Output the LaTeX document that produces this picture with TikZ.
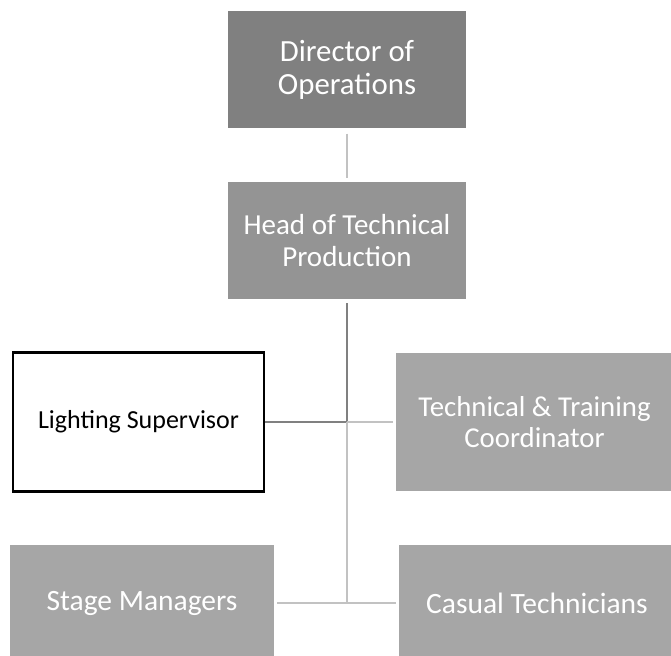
\documentclass[tikz,border=0pt]{standalone}
\usepackage{fontspec}
\setmainfont{Carlito}
\begin{document}
\begin{tikzpicture}[x=1pt,y=-1pt,
  box/.style={rectangle, inner sep=0pt, align=center, text=white},
  dark/.style={color=black!50},
  light/.style={color=black!24},
  conn/.style={line width=2.6pt}]
\useasboundingbox (0,0) rectangle (671,655);
\node[box, fill=black!50, minimum width=238pt, minimum height=117pt, font=\fontsize{30.8}{33}\selectfont] (dir) at (347,70) {Director of\\Operations};
\node[box, fill=black!42, minimum width=238pt, minimum height=117pt, font=\fontsize{29}{32}\selectfont] (head) at (347,240.5) {Head of Technical\\Production};
\node[box, text=black, draw=black, line width=2.5pt, minimum width=251pt, minimum height=139pt, font=\fontsize{26}{30}\selectfont] (light) at (138.5,422) {Lighting Supervisor};
\node[box, fill=black!35, minimum width=277pt, minimum height=138pt, font=\fontsize{28.8}{31}\selectfont] (tech) at (534.5,422) {Technical \& Training\\Coordinator};
\node[box, fill=black!35, minimum width=264pt, minimum height=116pt, font=\fontsize{29.5}{32}\selectfont] (stage) at (142,603) {Stage Managers};
\node[box, fill=black!35, minimum width=276pt, minimum height=116pt, font=\fontsize{29.5}{32}\selectfont] (cas) at (537,603) {Casual Technicians};
\coordinate (j1) at (347,422);
\coordinate (j2) at (347,603);
\draw[conn, light, shorten <=5pt, shorten >=4pt] (dir.south) -- (head.north);
\draw[conn, dark, shorten <=4pt] (head.south) -- (j1);
\draw[conn, dark] (j1) -- (light.east);
\draw[conn, light, shorten >=3pt] (j1) -- (tech.west);
\draw[conn, light] (j1) -- (j2);
\draw[conn, light, shorten <=3pt, shorten >=3pt] (stage.east) -- (cas.west);
\end{tikzpicture}
\end{document}
